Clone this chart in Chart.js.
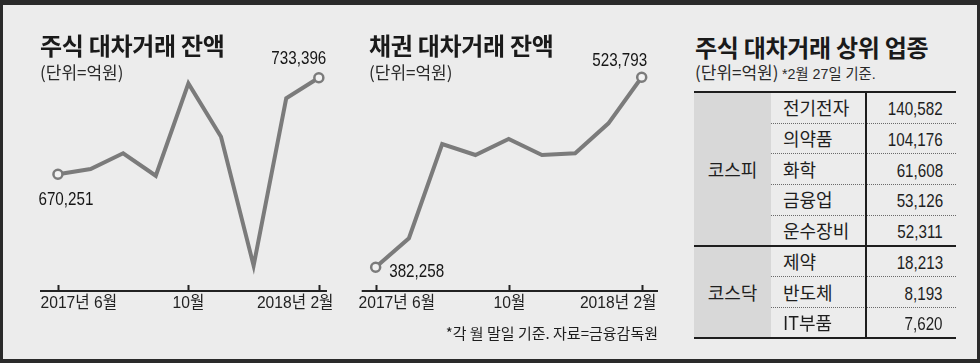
<!DOCTYPE html>
<html><head><meta charset="utf-8">
<script src="https://cdn.jsdelivr.net/npm/chart.js@4/dist/chart.umd.min.js"></script>
<style>
html,body{margin:0;padding:0;}
body{width:980px;height:363px;background:#2a2a2a;position:relative;overflow:hidden;font-family:"Noto Sans CJK KR",sans-serif;color:#1e1e1e;}
#frame{position:absolute;left:3px;top:5px;width:974px;height:354px;background:#ececec;}
canvas{position:absolute;top:0;}
.t{position:absolute;white-space:nowrap;line-height:1;}
.title{font-size:24px;font-weight:700;letter-spacing:-0.3px;color:#1a1a1a;}
.sub{font-size:17px;color:#2a2a2a;}
.small{font-size:15px;}
.cond{display:inline-block;transform:scaleX(0.95);transform-origin:left center;}
.num{font-family:"Liberation Sans","Noto Sans CJK KR",sans-serif;}
.cell{position:absolute;white-space:nowrap;line-height:1;font-size:18px;color:#1e1e1e;}
.vnum{display:inline-block;font-family:"Liberation Sans",sans-serif;font-size:19px;transform:scaleX(0.8);transform-origin:right center;}
</style></head>
<body>
<div id="frame"></div>
<canvas id="c1" width="345" height="363" style="left:0px"></canvas>
<canvas id="c2" width="325" height="363" style="left:345px"></canvas>

<div class="t title" style="left:40px;top:33px;">주식 대차거래 잔액</div>
<div class="t sub" style="left:40px;top:63px;">(단위=억원)</div>
<div class="t title" style="left:369px;top:33px;">채권 대차거래 잔액</div>
<div class="t sub" style="left:369px;top:63px;">(단위=억원)</div>
<div class="t title" style="left:695px;top:35px;">주식 대차거래 상위 업종</div>
<div class="t sub" style="left:695px;top:63px;">(단위=억원) <span class="cond small num">*2월 27일 기준.</span></div>
<div class="t small" style="right:322px;top:325px;text-align:right;">*각 월 말일 기준. 자료=금융감독원</div>
<div id="table"></div>

<script>
// ---------- data ----------
const months = ['2017년 6월','7월','8월','9월','10월','11월','12월','2018년 1월','2018년 2월'];
const axisTickIndex = [0, 4, 8];
const stockBalance = [670251, 673700, 684000, 669300, 729700, 694800, 610500, 719900, 733396];
const bondBalance  = [382258, 403900, 474100, 465900, 477800, 465900, 467200, 489500, 523793];

const tableGroups = ['코스피', '코스닥'];
const kospiSectors = ['전기전자', '의약품', '화학', '금융업', '운수장비'];
const kospiValues  = [140582, 104176, 61608, 53126, 52311];
const kosdaqSectors = ['제약', '반도체', 'IT부품'];
const kosdaqValues  = [18213, 8193, 7620];

// ---------- charts ----------
const LINE = '#7b7b7b';
const NUMFONT = '"Liberation Sans","Noto Sans CJK KR",sans-serif';
const fmt = v => v.toLocaleString('en-US');

function condText(ctx, text, x, y, align, sx) {
  ctx.save();
  ctx.translate(x, y);
  ctx.scale(sx, 1);
  ctx.textAlign = align;
  ctx.fillText(text, 0, 0);
  ctx.restore();
}

const decor = {
  id: 'decor',
  afterDatasetsDraw(chart, args, opts) {
    const {ctx, chartArea: a, scales: {x, y}} = chart;
    ctx.save();
    ctx.strokeStyle = '#222';
    ctx.lineWidth = 2;
    ctx.beginPath();
    ctx.moveTo(a.left, a.bottom + 1);
    ctx.lineTo(a.right, a.bottom + 1);
    ctx.stroke();
    ctx.font = '17px ' + NUMFONT;
    ctx.fillStyle = '#222';
    ctx.textBaseline = 'middle';
    axisTickIndex.forEach((idx, k) => {
      const px = Math.round(x.getPixelForValue(idx)) + 0.5;
      ctx.beginPath();
      ctx.moveTo(px, a.bottom - 5);
      ctx.lineTo(px, a.bottom);
      ctx.lineWidth = 2;
      ctx.stroke();
      let tx = px, align = 'center';
      if (k === 0) { align = 'left'; tx = px - 18; }
      else if (k === axisTickIndex.length - 1) { align = 'right'; tx = px + 14; }
      condText(ctx, months[idx], tx, a.bottom + 13, align, 0.92);
    });
    const data = chart.data.datasets[0].data;
    ctx.font = '19px ' + NUMFONT;
    ctx.fillStyle = '#161616';
    const first = data[0], last = data[data.length - 1];
    condText(ctx, fmt(first.y), x.getPixelForValue(first.x) + opts.firstDx, y.getPixelForValue(first.y) + opts.firstDy, 'center', 0.8);
    condText(ctx, fmt(last.y), x.getPixelForValue(last.x) + opts.lastDx, y.getPixelForValue(last.y) + opts.lastDy, 'center', 0.8);
    ctx.restore();
  }
};

function makeChart(id, values, padding, xRange, yRange, labelOffsets) {
  return new Chart(document.getElementById(id), {
    type: 'line',
    data: {
      datasets: [{
        data: values.map((v, i) => ({x: i, y: v})),
        borderColor: LINE,
        borderWidth: 4,
        borderJoinStyle: 'miter',
        tension: 0,
        clip: false,
        pointRadius: c => (c.dataIndex === 0 || c.dataIndex === values.length - 1) ? 4.5 : 0,
        pointBackgroundColor: '#f2f2f2',
        pointBorderColor: LINE,
        pointBorderWidth: 2.5
      }]
    },
    options: {
      responsive: false,
      animation: false,
      devicePixelRatio: 1,
      events: [],
      layout: {padding},
      plugins: {legend: {display: false}, tooltip: {enabled: false}, decor: labelOffsets},
      scales: {
        x: {type: 'linear', display: false, min: xRange[0], max: xRange[1]},
        y: {display: false, min: yRange[0], max: yRange[1]}
      }
    },
    plugins: [decor]
  });
}

makeChart('c1', stockBalance, {left: 40, right: 18, top: 40, bottom: 73},
  [-0.55, 8.25], [594618, 758043],
  {firstDx: 8, firstDy: 25, lastDx: -20, lastDy: -19});
makeChart('c2', bondBalance, {left: 16.7, right: 12, top: 40, bottom: 73},
  [-0.42, 8.49], [365349, 551574],
  {firstDx: 41, firstDy: 4.5, lastDx: -22, lastDy: -17});

// ---------- table ----------
(function buildTable() {
  const host = document.getElementById('table');
  const L = 694, G = 771, V = 866, R = 956, T = 92, H = 30.7;
  const rows = [];
  kospiSectors.forEach((s, i) => rows.push({g: 0, name: s, value: kospiValues[i]}));
  kosdaqSectors.forEach((s, i) => rows.push({g: 1, name: s, value: kosdaqValues[i]}));
  const n = rows.length;
  const add = (style, text, cls) => {
    const d = document.createElement('div');
    d.className = cls || '';
    d.style.cssText = 'position:absolute;' + style;
    if (text !== undefined) d.textContent = text;
    host.appendChild(d);
    return d;
  };
  add(`left:${L}px;top:${T}px;width:${G - L}px;height:${n * H}px;background:#d8d8d8;`);
  rows.forEach((r, i) => {
    if (i === 0) return;
    if (rows[i - 1].g !== r.g) {
      add(`left:${L}px;top:${T + i * H - 1}px;width:${R - L}px;height:2px;background:#1e1e1e;`);
    } else {
      add(`left:${G}px;top:${T + i * H}px;width:${R - G}px;height:0;border-top:1px dotted #6a6a6a;`);
    }
  });
  add(`left:${L}px;top:${T - 1}px;width:${R - L}px;height:2px;background:#1e1e1e;`);
  add(`left:${L}px;top:${T + n * H - 1}px;width:${R - L}px;height:2px;background:#1e1e1e;`);
  add(`left:${V - 1}px;top:${T}px;width:1.5px;height:${n * H}px;background:#1e1e1e;`);
  rows.forEach((r, i) => {
    const cy = T + i * H + H / 2;
    add(`left:${G + 12}px;top:${cy - 10}px;height:20px;line-height:20px;`, r.name, 'cell');
    const v = add(`right:${980 - 943}px;top:${cy - 10}px;height:20px;line-height:20px;text-align:right;`, undefined, 'cell');
    const s = document.createElement('span');
    s.className = 'vnum';
    s.textContent = fmt(r.value);
    v.appendChild(s);
  });
  tableGroups.forEach((g, gi) => {
    const idx = rows.map((r, i) => r.g === gi ? i : -1).filter(i => i >= 0);
    const cy = T + (idx[0] + idx[idx.length - 1] + 1) / 2 * H;
    add(`left:${L}px;width:${G - L}px;top:${cy - 10}px;height:20px;line-height:20px;text-align:center;`, g, 'cell');
  });
})();
</script>
</body></html>
